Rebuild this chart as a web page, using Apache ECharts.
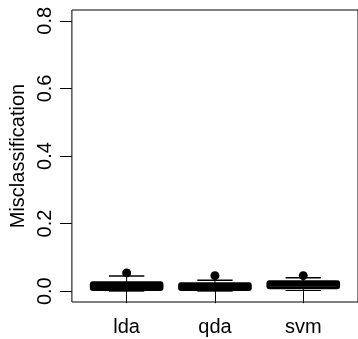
<!DOCTYPE html>
<html>
<head>
<meta charset="utf-8">
<script src="https://cdn.jsdelivr.net/npm/echarts@6/dist/echarts.min.js"></script>
<style>
  html, body { margin: 0; padding: 0; background: #fff; }
  #chart { width: 358px; height: 339px; }
</style>
</head>
<body>
<div id="chart"></div>
<script>
const categories = ['lda', 'qda', 'svm'];
const lowWhisker = [0.0, 0.0, 0.002];
const q1 = [0.005, 0.005, 0.01];
const medians = [0.015, 0.015, 0.02];
const q3 = [0.025, 0.022, 0.028];
const highWhisker = [0.045, 0.032, 0.04];
const outliers = [[1, 0.054], [2, 0.046], [3, 0.046]];
const yTicks = [0, 0.2, 0.4, 0.6, 0.8];

const boxData = categories.map((c, i) => [i + 1, lowWhisker[i], q1[i], medians[i], q3[i], highWhisker[i]]);

document.addEventListener("DOMContentLoaded", () => {
  echarts.init(document.querySelector("#chart")).setOption({
    animation: false,
    textStyle: { fontFamily: 'Liberation Sans', color: '#000' },
    grid: {
      left: 67, right: 0, top: 10, bottom: 37,
      show: true, borderColor: '#000', borderWidth: 1
    },
    xAxis: {
      type: 'value',
      min: 0.38, max: 3.62,
      splitLine: { show: false },
      axisLine: { show: false },
      axisTick: { show: true, length: 12, lineStyle: { color: '#000' }, customValues: [1, 2, 3] },
      axisLabel: {
        customValues: [1, 2, 3],
        color: '#000', fontSize: 20, margin: 15,
        formatter: v => categories[Math.round(v) - 1]
      }
    },
    yAxis: {
      type: 'value',
      min: -0.032, max: 0.832,
      name: 'Misclassification',
      nameLocation: 'middle',
      nameGap: 43,
      nameRotate: 90,
      nameTextStyle: { fontSize: 20, color: '#000' },
      splitLine: { show: false },
      axisLine: { show: false },
      axisTick: { show: true, length: 12, lineStyle: { color: '#000' }, customValues: yTicks },
      axisLabel: {
        customValues: yTicks,
        color: '#000', fontSize: 20, rotate: 90, margin: 16,
        formatter: v => v.toFixed(1)
      }
    },
    series: [{
      type: 'custom',
      data: boxData,
      renderItem: (params, api) => {
        const x = api.value(0);
        const half = 0.4, capHalf = 0.2;
        const tl = api.coord([x - half, api.value(4)]);
        const br = api.coord([x + half, api.value(2)]);
        const lo = api.coord([x, api.value(1)]);
        const hi = api.coord([x, api.value(5)]);
        const q1p = api.coord([x, api.value(2)]);
        const q3p = api.coord([x, api.value(4)]);
        const medL = api.coord([x - half, api.value(3)]);
        const medR = api.coord([x + half, api.value(3)]);
        const capL = api.coord([x - capHalf, 0])[0];
        const capR = api.coord([x + capHalf, 0])[0];
        const line = (x1, y1, x2, y2, w) => ({
          type: 'line', shape: { x1, y1, x2, y2 },
          style: { stroke: '#000', lineWidth: w }
        });
        return {
          type: 'group',
          children: [
            line(lo[0], lo[1], q1p[0], q1p[1], 1),
            line(hi[0], hi[1], q3p[0], q3p[1], 1),
            line(capL, lo[1], capR, lo[1], 1),
            line(capL, hi[1], capR, hi[1], 1.5),
            {
              type: 'rect',
              shape: { x: tl[0], y: tl[1], width: br[0] - tl[0], height: br[1] - tl[1], r: 1.5 },
              style: { fill: '#fff', stroke: '#000', lineWidth: 3 }
            },
            line(medL[0], medL[1], medR[0], medR[1], 4)
          ]
        };
      }
    }, {
      type: 'scatter',
      data: outliers,
      symbol: 'circle',
      symbolSize: 9,
      itemStyle: { color: '#000', opacity: 1 }
    }]
  });
});
</script>
</body>
</html>
